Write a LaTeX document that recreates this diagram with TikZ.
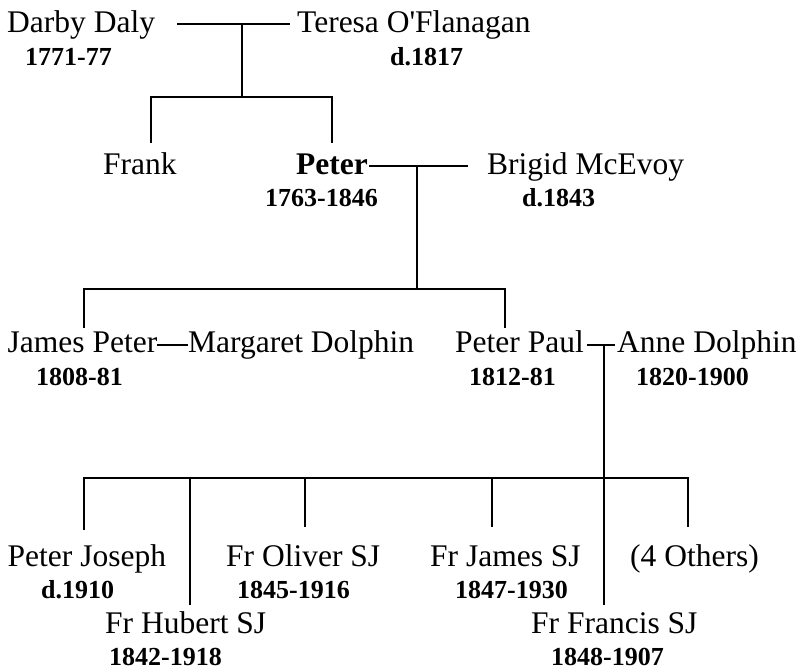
\documentclass[tikz,border=0pt]{standalone}
\usepackage{fontspec}
\setmainfont{Liberation Serif}[Ligatures=TeXOff]
\begin{document}
\begin{tikzpicture}[x=1pt,y=-1pt,
  person/.style={anchor=base west, inner sep=0pt, font=\fontsize{31.5}{34}\selectfont},
  dates/.style={anchor=base west, inner sep=0pt, font=\bfseries\fontsize{26}{30}\selectfont},
  link/.style={line width=1.6pt, line cap=butt}]
\useasboundingbox (0,0) rectangle (800,670);
% row 1
\node[person] (darby) at (7,32) {Darby Daly};
\node[dates] (darbyd) at (25,65) {1771-77};
\node[person] (teresa) at (297,32) {Teresa O'Flanagan};
\node[dates] (teresad) at (390,65) {d.1817};
% row 2
\node[person] (frank) at (103,174) {Frank};
\node[person, font=\bfseries\fontsize{31.5}{34}\selectfont] (peter) at (296,174) {Peter};
\node[dates] (peterd) at (265,206) {1763-1846};
\node[person] (brigid) at (487,174) {Brigid McEvoy};
\node[dates] (brigidd) at (522,206) {d.1843};
% row 3
\node[person] (jp) at (7.5,352) {James Peter};
\node[person] (mg) at (188,352) {Margaret Dolphin};
\node[dates] (jpd) at (36,385) {1808-81};
\node[person] (pp) at (455,352) {Peter Paul};
\node[dates] (ppd) at (469,385) {1812-81};
\node[person] (anne) at (617,352) {Anne Dolphin};
\node[dates] (anned) at (636,385) {1820-1900};
% row 4
\node[person] (pj) at (7.5,566) {Peter Joseph};
\node[dates] (pjd) at (41,598) {d.1910};
\node[person] (oliver) at (226,566) {Fr Oliver SJ};
\node[dates] (oliverd) at (237,598) {1845-1916};
\node[person] (james) at (430,566) {Fr James SJ};
\node[dates] (jamesd) at (455,598) {1847-1930};
\node[person] (others) at (630,566) {(4 Others)};
% row 5
\node[person] (hubert) at (105,633) {Fr Hubert SJ};
\node[dates] (hubertd) at (109,665) {1842-1918};
\node[person] (francis) at (531,633) {Fr Francis SJ};
\node[dates] (francisd) at (551,665) {1848-1907};
% junctions
\coordinate (m1a) at (177,24);
\coordinate (m1b) at (290,24);
\coordinate (m1) at (242,24);
\coordinate (c1) at (242,97);
\coordinate (c1l) at (151,97);
\coordinate (c1r) at (332,97);
\coordinate (frankt) at (151,143);
\coordinate (petert) at (332,143);
\coordinate (m2a) at (369,166);
\coordinate (m2b) at (468,166);
\coordinate (m2) at (417,166);
\coordinate (c2) at (417,289);
\coordinate (c2l) at (84,289);
\coordinate (c2r) at (505,289);
\coordinate (jpt) at (84,328);
\coordinate (ppt) at (505,328);
\coordinate (m3a) at (587,345);
\coordinate (m3b) at (615,345);
\coordinate (m3) at (604,345);
\coordinate (c3) at (604,478);
\coordinate (c3l) at (84,478);
\coordinate (c3r) at (688,478);
\coordinate (pjt) at (84,530);
\coordinate (hubt) at (190,478);
\coordinate (hubb) at (190,605);
\coordinate (olit) at (305,478);
\coordinate (olib) at (305,527);
\coordinate (jamt) at (492,478);
\coordinate (jamb) at (492,527);
\coordinate (frb) at (604,605);
\coordinate (otht) at (688,527);
% connectors
\draw[link] (m1a) -- (m1b);
\draw[link] (m1) -- (c1);
\draw[link] (frankt) -- (c1l) -- (c1r) -- (petert);
\draw[link] (m2a) -- (m2b);
\draw[link] (m2) -- (c2);
\draw[link] (jpt) -- (c2l) -- (c2r) -- (ppt);
\draw[link] ([yshift=7pt]jp.base east) -- ([yshift=7pt]mg.base west);
\draw[link] (m3a) -- (m3b);
\draw[link] (m3) -- (frb);
\draw[link] (pjt) -- (c3l) -- (c3r) -- (otht);
\draw[link] (hubt) -- (hubb);
\draw[link] (olit) -- (olib);
\draw[link] (jamt) -- (jamb);
\end{tikzpicture}
\end{document}
